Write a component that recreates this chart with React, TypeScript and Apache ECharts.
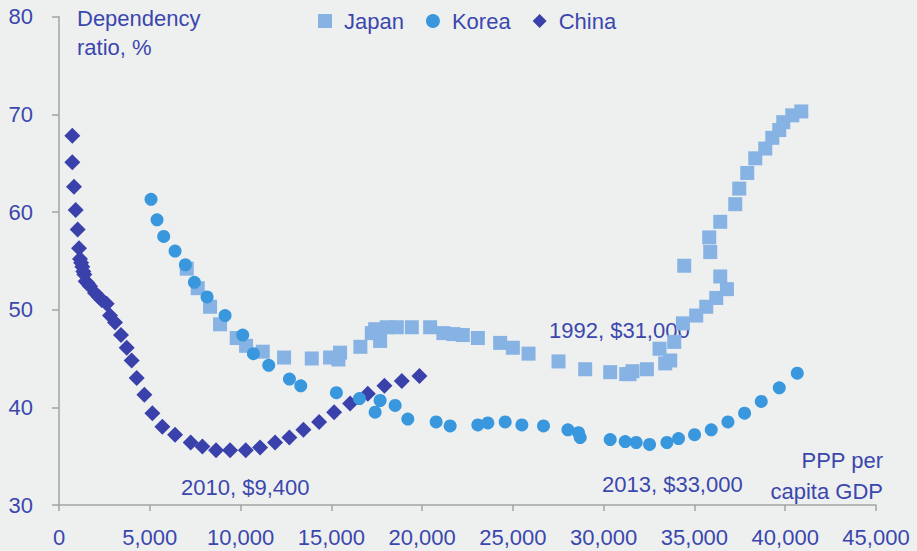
import React, { useEffect, useRef } from "react";
import * as echarts from "echarts";

const xTicks = [0, 5000, 10000, 15000, 20000, 25000, 30000, 35000, 40000, 45000];
const yTicks = [30, 40, 50, 60, 70, 80];

const japanGdp = [7036, 7640, 8320, 8871, 9789, 10304, 11222, 12398, 13922, 14932, 15390, 15483, 16600, 17228, 17412, 17687, 18055, 18606, 19433, 20442, 21175, 21726, 22240, 23070, 24299, 24998, 25862, 27512, 28983, 30360, 31242, 31424, 31589, 32380, 33077, 33390, 33667, 33887, 34364, 34437, 35099, 35650, 36201, 36789, 36421, 35870, 35815, 36421, 37248, 37468, 37909, 38350, 38901, 39287, 39672, 39893, 40389, 40885];
const japanRatio = [54.2, 52.2, 50.3, 48.5, 47.1, 46.3, 45.7, 45.1, 45.0, 45.1, 44.9, 45.6, 46.2, 47.6, 48.0, 46.8, 48.2, 48.2, 48.2, 48.2, 47.6, 47.5, 47.4, 47.1, 46.6, 46.1, 45.5, 44.7, 43.9, 43.6, 43.4, 43.4, 43.7, 43.9, 46.0, 44.5, 44.8, 46.7, 48.6, 54.5, 49.4, 50.3, 51.2, 52.1, 53.4, 55.9, 57.4, 59.0, 60.8, 62.4, 64.0, 65.5, 66.5, 67.6, 68.4, 69.2, 69.9, 70.3];

const koreaGdp = [5069, 5400, 5767, 6392, 6961, 7457, 8155, 9147, 10120, 10708, 11552, 12692, 13317, 15280, 16548, 17687, 17412, 18514, 19213, 20773, 21544, 23070, 23621, 24575, 25495, 26685, 28030, 28616, 28707, 30360, 31187, 31793, 32527, 33484, 34125, 35007, 35925, 36845, 37761, 38680, 39672, 40664];
const koreaRatio = [61.3, 59.2, 57.5, 56.0, 54.6, 52.8, 51.3, 49.4, 47.4, 45.5, 44.3, 42.9, 42.2, 41.5, 40.9, 40.7, 39.5, 40.2, 38.8, 38.5, 38.1, 38.2, 38.4, 38.5, 38.2, 38.1, 37.7, 37.4, 36.9, 36.7, 36.5, 36.4, 36.2, 36.4, 36.8, 37.2, 37.7, 38.5, 39.4, 40.6, 42.0, 43.5];

const chinaGdp = [733, 733, 827, 920, 1030, 1102, 1157, 1220, 1284, 1340, 1395, 1469, 1580, 1708, 1984, 2200, 2351, 2627, 2810, 3086, 3416, 3729, 4004, 4280, 4702, 5143, 5693, 6392, 7255, 7896, 8651, 9422, 10287, 11075, 11902, 12690, 13462, 14326, 15153, 16034, 17010, 17925, 18883, 19853];
const chinaRatio = [67.8, 65.1, 62.6, 60.2, 58.2, 56.3, 55.2, 54.8, 54.4, 53.9, 53.6, 52.9, 52.7, 52.4, 51.7, 51.3, 51.0, 50.6, 49.4, 48.7, 47.4, 46.1, 44.8, 43.0, 41.3, 39.4, 38.0, 37.2, 36.4, 36.0, 35.6, 35.6, 35.6, 35.9, 36.4, 36.9, 37.7, 38.5, 39.5, 40.4, 41.4, 42.2, 42.7, 43.2];

const seriesNames = ["Japan", "Korea", "China"];
const annotations = {
  yTitle1: "Dependency",
  yTitle2: "ratio, %",
  xTitle1: "PPP per",
  xTitle2: "capita GDP",
  china: "2010, $9,400",
  japan: "1992, $31,000",
  korea: "2013, $33,000",
};

const TEXT = "#3b47ad";
const FONT = "'Liberation Sans', Arial, sans-serif";
const zip = (xs: number[], ys: number[]) => xs.map((x, i) => [x, ys[i]]);

export default function App() {
  const ref = useRef<HTMLDivElement>(null);
  useEffect(() => {
    if (!ref.current) return;
    const chart = echarts.init(ref.current, undefined, { renderer: "svg" });
    const txt = (text: string, x: number, y: number, align = "left") => ({
      type: "text",
      x,
      y,
      style: { text, fill: TEXT, font: `22px ${FONT}`, textAlign: align, textVerticalAlign: "middle" },
    });
    chart.setOption({
      animation: false,
      backgroundColor: "#eef0f0",
      textStyle: { fontFamily: FONT },
      grid: { left: 59, right: 41, top: 16.7, bottom: 46, containLabel: false, outerBoundsMode: "none" },
      legend: {
        data: seriesNames,
        left: 318,
        top: 10,
        padding: 0,
        itemWidth: 14,
        itemHeight: 14,
        itemGap: 22,
        textStyle: { color: TEXT, fontSize: 22, fontFamily: FONT, padding: [0, 0, 0, 7] },
      },
      xAxis: {
        type: "value",
        min: xTicks[0],
        max: xTicks[xTicks.length - 1],
        interval: 5000,
        axisLine: { show: true, lineStyle: { color: "#a3a3a3", width: 1.5 } },
        axisTick: { show: true, length: 6, lineStyle: { color: "#a3a3a3", width: 1.5 } },
        splitLine: { show: false },
        axisLabel: {
          color: TEXT,
          fontSize: 22,
          fontFamily: FONT,
          margin: 21,
          formatter: (v: number) => v.toLocaleString("en-US"),
        },
      },
      yAxis: {
        type: "value",
        min: yTicks[0],
        max: yTicks[yTicks.length - 1],
        interval: 10,
        axisLine: { show: true, lineStyle: { color: "#a3a3a3", width: 1.5 } },
        axisTick: { show: true, length: 7, lineStyle: { color: "#a3a3a3", width: 1.5 } },
        splitLine: { show: false },
        axisLabel: { color: TEXT, fontSize: 22, fontFamily: FONT, margin: 26 },
      },
      series: [
        {
          name: "Japan",
          type: "scatter",
          symbol: "rect",
          symbolSize: 14,
          itemStyle: { color: "#86b2e4", opacity: 1 },
          data: zip(japanGdp, japanRatio),
          z: 2,
        },
        {
          name: "China",
          type: "scatter",
          symbol: "diamond",
          symbolSize: 16,
          itemStyle: { color: "#3a41ab", opacity: 1 },
          data: zip(chinaGdp, chinaRatio),
          z: 3,
        },
        {
          name: "Korea",
          type: "scatter",
          symbol: "circle",
          symbolSize: 13,
          itemStyle: { color: "#3997dd", opacity: 1 },
          data: zip(koreaGdp, koreaRatio),
          z: 4,
        },
      ],
      graphic: [
        txt(annotations.yTitle1, 77, 18),
        txt(annotations.yTitle2, 77, 47),
        txt(annotations.china, 181, 487),
        txt(annotations.korea, 602, 484),
        txt(annotations.japan, 549, 330),
        txt(annotations.xTitle1, 883, 460, "right"),
        txt(annotations.xTitle2, 883, 491, "right"),
      ],
    });
    return () => chart.dispose();
  }, []);
  return <div ref={ref} style={{ position: "fixed", left: 0, top: 0, width: 917, height: 551 }} />;
}
